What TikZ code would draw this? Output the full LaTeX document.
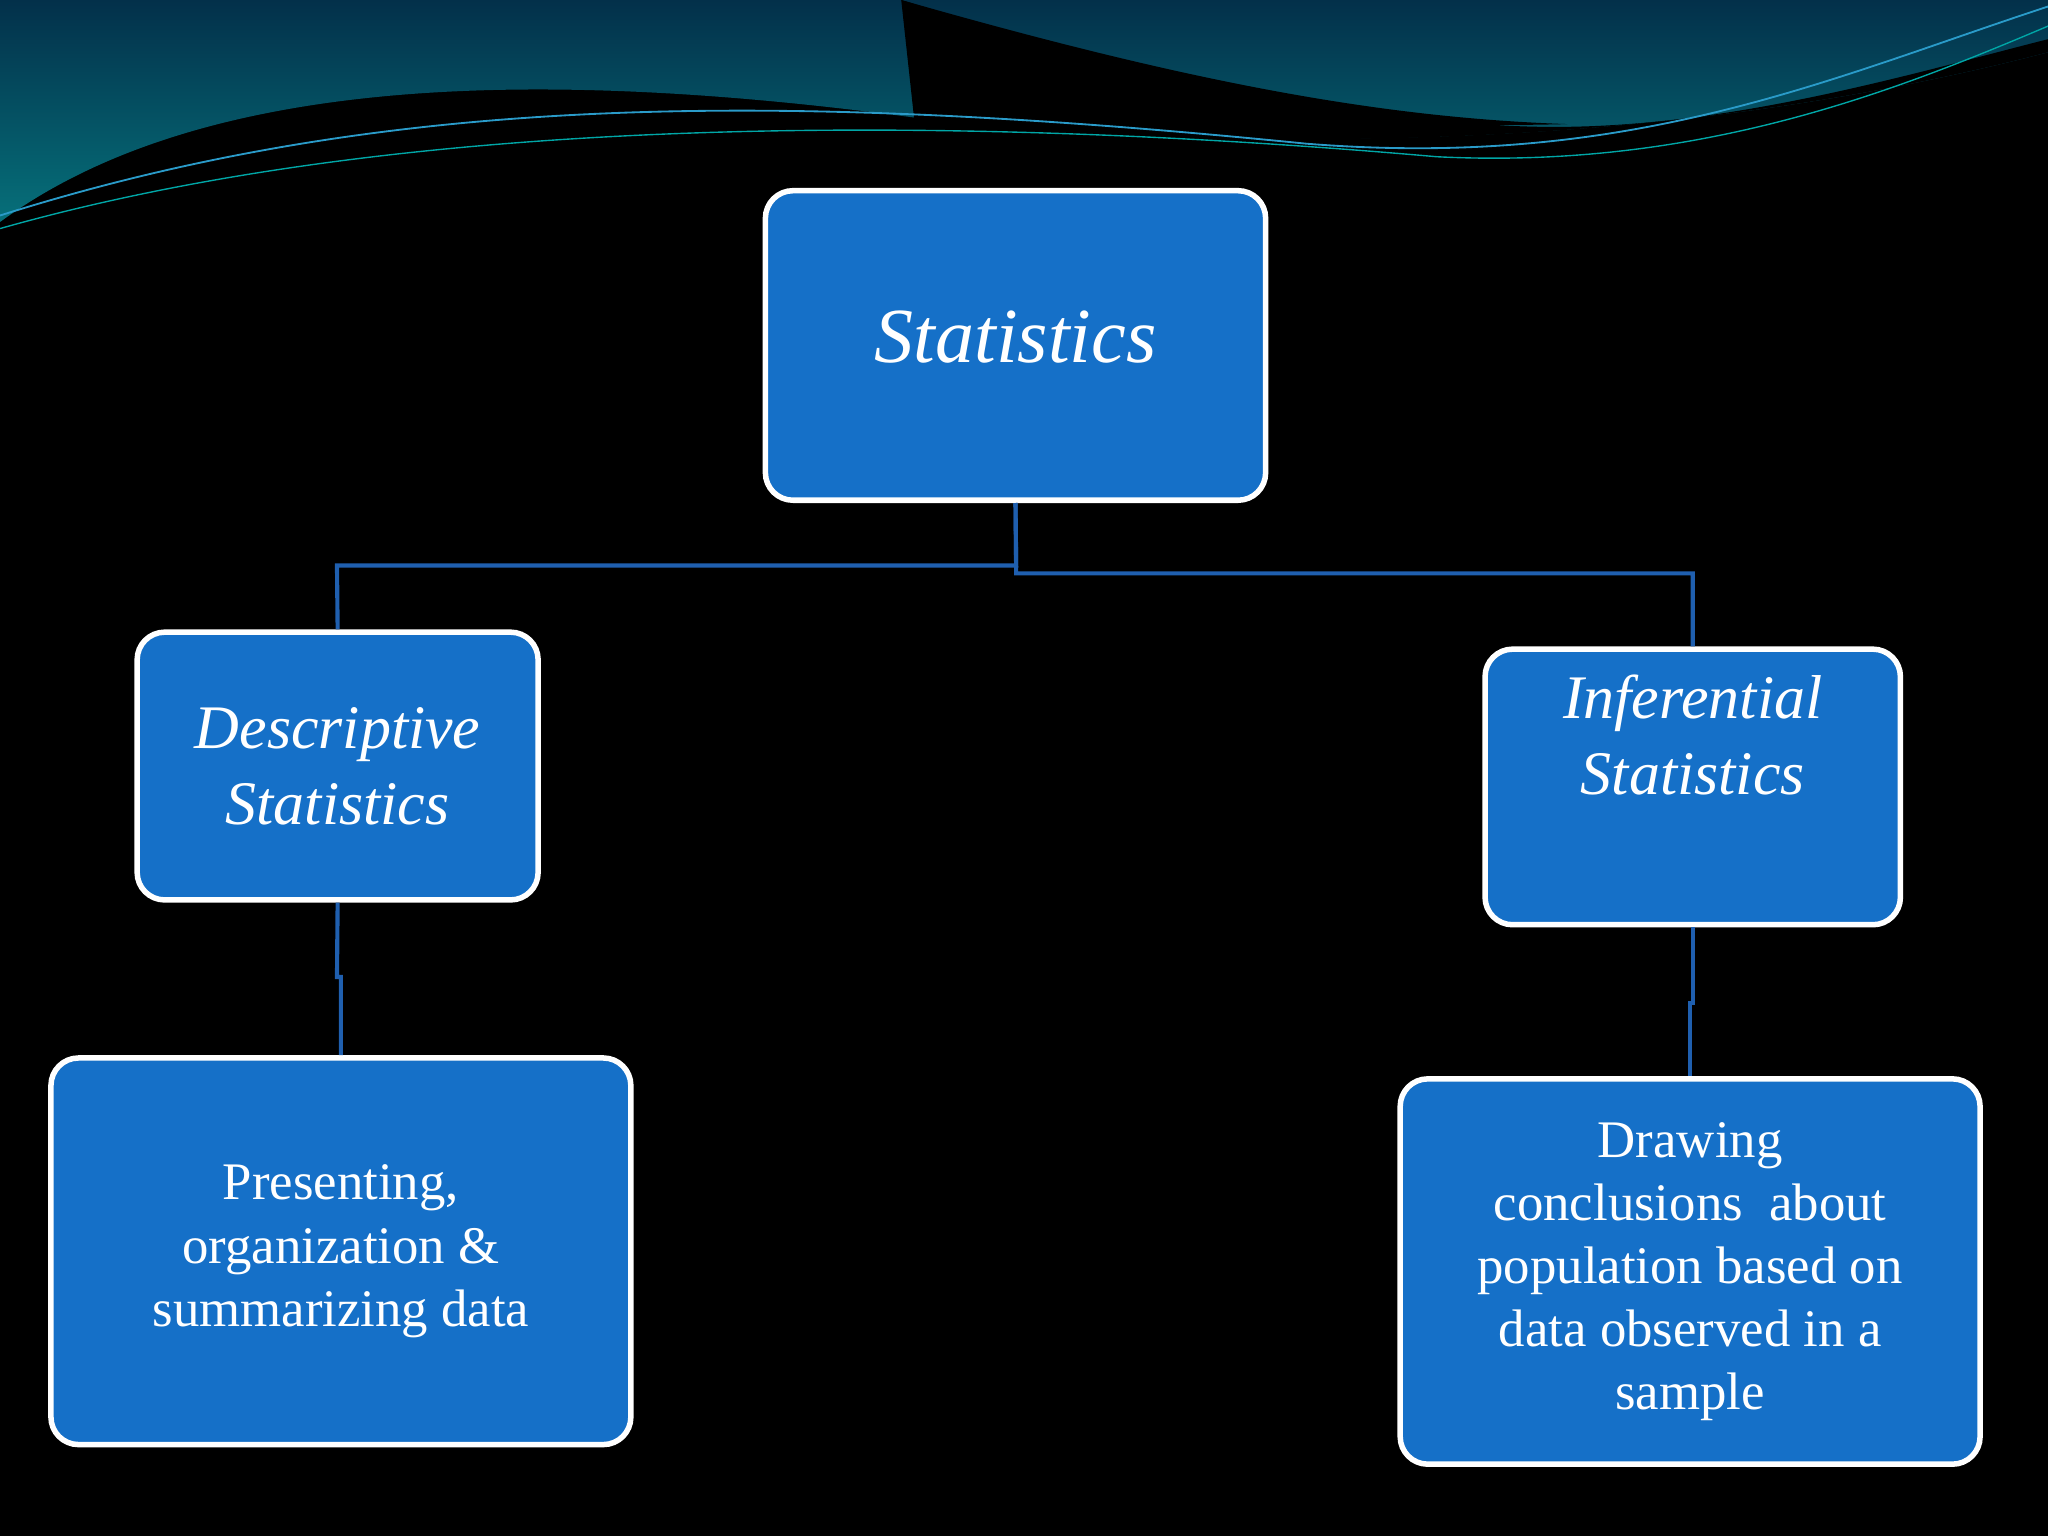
\documentclass[tikz,border=0pt]{standalone}
\usepackage{fontspec}
\setmainfont{Liberation Serif}
\definecolor{boxblue}{HTML}{1570C8}
\definecolor{linkblue}{HTML}{1F5FAF}
\definecolor{teal1}{HTML}{06707A}
\definecolor{teal2}{HTML}{03304A}
\begin{document}
\begin{tikzpicture}[x=0.02cm,y=-0.02cm,
  box/.style={draw=white,line width=2.4pt,fill=boxblue,rounded corners=12pt,text=white,align=center},
  link/.style={draw=linkblue,line width=1.8pt}]
\fill[black] (0,0) rectangle (1568,1176);
\useasboundingbox (0,0) rectangle (1568,1176);
% top wave
\shade[top color=teal2,bottom color=teal1] (0,0) -- (1568,0) -- (1568,40) .. controls (1300,110) and (1000,120) .. (700,90) .. controls (400,50) and (150,60) .. (0,170) -- cycle;
\fill[black] (690,0) .. controls (900,60) and (1050,90) .. (1200,95) .. controls (1000,100) and (850,80) .. (690,0) -- cycle;
\fill[black] (690,0) .. controls (850,50) and (1000,85) .. (1150,96) .. controls (1300,105) and (1450,60) .. (1568,30) -- (1568,40) .. controls (1300,110) and (1000,120) .. (700,92) -- cycle;
\draw[cyan!60!teal,line width=0.8pt] (0,165) .. controls (300,70) and (600,70) .. (1000,110) .. controls (1250,130) and (1400,60) .. (1568,5);
\draw[teal!70!cyan,line width=0.6pt] (0,175) .. controls (300,90) and (700,85) .. (1100,120) .. controls (1300,130) and (1450,70) .. (1568,20);
% boxes
\node[box,minimum width=383*0.02cm,minimum height=237*0.02cm] (stat) at (777.5,264.5) {};
\node[text=white,font=\itshape\fontsize{34}{40}\selectfont] (statT) at (777.5,258) {Statistics};
\node[box,minimum width=307*0.02cm,minimum height=205*0.02cm,font=\itshape\fontsize{27}{33}\selectfont] (desc) at (258.5,586.5) {Descriptive\\Statistics};
\node[box,minimum width=318*0.02cm,minimum height=211*0.02cm] (inf) at (1296,602.5) {};
\node[text=white,align=center,font=\itshape\fontsize{27}{33}\selectfont] (infT) at (1296,563) {Inferential\\Statistics};
\node[box,minimum width=444*0.02cm,minimum height=296*0.02cm,font=\fontsize{23}{27.5}\selectfont] (pres) at (261,958) {Presenting,\\organization \&\\summarizing data};
\node[box,minimum width=444*0.02cm,minimum height=295*0.02cm,font=\fontsize{23}{27.5}\selectfont] (draw) at (1294,973.5) {Drawing\\conclusions\ \ about\\population based on\\data observed in a\\sample};
% connectors
\draw[link] (stat.south) -- (778,433) -- (258,433) -- (desc.north);
\draw[link] (stat.south) -- (778,439) -- (1296,439) -- (inf.north);
\draw[link] (desc.south) -- (258,748) -- (261,748) -- (pres.north);
\draw[link] (inf.south) -- (1296,768) -- (1294,768) -- (draw.north);
\end{tikzpicture}
\end{document}
